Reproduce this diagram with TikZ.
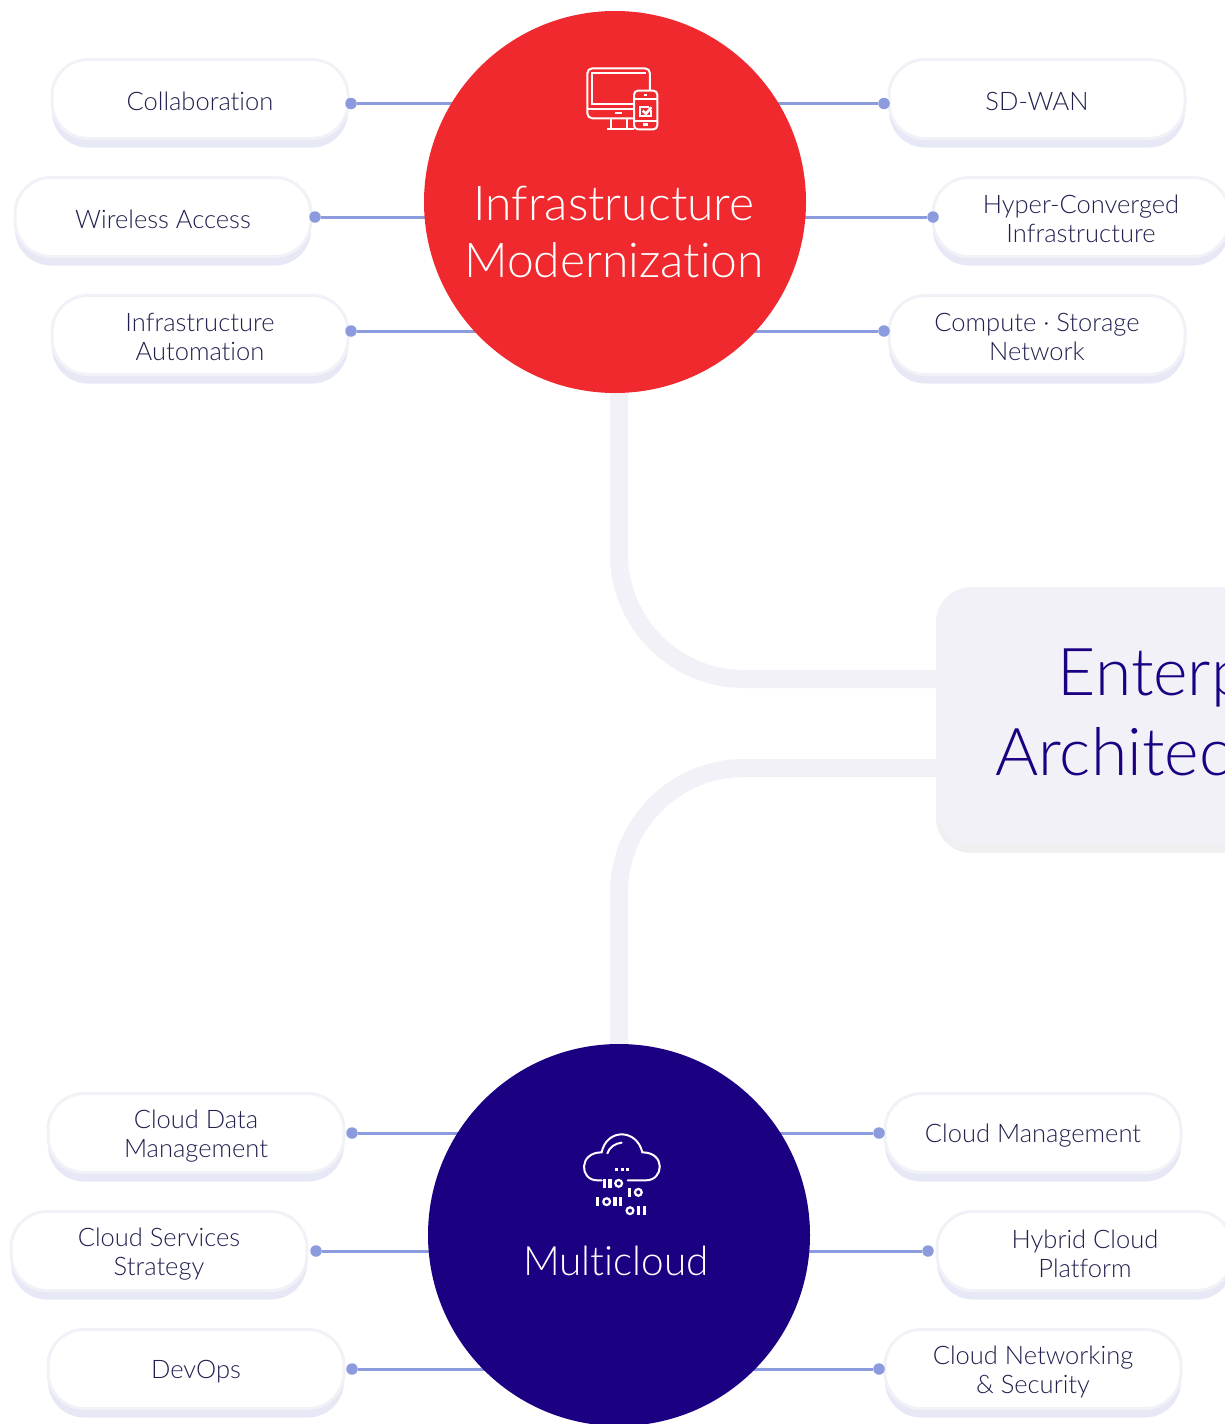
\documentclass[tikz,border=0pt]{standalone}
\usepackage{fontspec}
\setmainfont{Lato}[UprightFont=* Light, Ligatures=NoCommon]
\usepackage{xcolor}
\usetikzlibrary{backgrounds,shadows}

\definecolor{infrared}{HTML}{EF292D}
\definecolor{cloudnavy}{HTML}{1B0082}
\definecolor{pillink}{HTML}{20204F}
\definecolor{pillrim}{HTML}{F1F1F8}
\definecolor{pillshade}{HTML}{E6E8F5}
\definecolor{stubblue}{HTML}{8C9BDD}
\definecolor{trunkgrey}{HTML}{F1F1F7}
\definecolor{boxshade}{HTML}{F0F0F3}

\tikzset{
	pill/.style={draw=pillrim, line width=3pt, fill=white, rounded corners=36pt, minimum width=296pt, minimum height=79pt, inner sep=0pt, drop shadow={shadow xshift=0pt, shadow yshift=-9pt, fill=pillshade, opacity=1}},
	pilltext/.style={inner sep=0pt, align=center, text=pillink, font=\fontsize{25.5}{29}\selectfont},
	hub/.style={circle, minimum size=382pt, inner sep=0pt},
	hubtext/.style={text=white, align=center, inner sep=0pt},
	stubdot/.style={circle, fill=stubblue, minimum size=11.5pt, inner sep=0pt},
	stub/.style={draw=stubblue, line width=3pt},
	trunk/.style={draw=trunkgrey, line width=18pt, rounded corners=125pt},
	icon/.style={draw=white, line width=2pt}
}

\begin{document}
\begin{tikzpicture}[x=1pt, y=-1pt]
\useasboundingbox (0,0) rectangle (1225,1424);

\node[fill=trunkgrey, rounded corners=35pt, minimum width=468pt, minimum height=257pt, inner sep=0pt, drop shadow={shadow xshift=0pt, shadow yshift=-9pt, fill=boxshade, opacity=1}] (archbox) at (1170,715.5) {};
\node[inner sep=0pt, align=center, text=cloudnavy, font=\fontsize{66}{80}\selectfont] (archtext) at (1170,712) {\hspace*{66pt}Enterprise\\Architecture};

\node[hub, fill=infrared] (infra) at (615,202) {};
\node[hub, fill=cloudnavy] (multi) at (619,1235) {};
\node[hubtext, font=\fontsize{48}{57}\selectfont] (infratext) at (614,232) {Infrastructure\\Modernization};
\node[hubtext, font=\fontsize{40.5}{50}\selectfont] (multitext) at (616,1261) {Multicloud};

\begin{pgfonlayer}{background}
\draw[trunk] ([xshift=4pt]infra.south) |- ([yshift=36.5pt]archbox.west);
\draw[trunk] (multi.north) |- ([yshift=-52.5pt]archbox.west);
\end{pgfonlayer}

% pills round the red hub
\foreach \name/\x/\y/\dotx/\doty/\txt in {
	collab/200/99/351/103.5/Collaboration,
	wireless/163/217/315/217/Wireless Access,
	autom/200/335/351/331/Infrastructure\\Automation,
	sdwan/1037/99/884/103.5/SD-WAN,
	hyper/1081/217/933/217/Hyper-Converged\\Infrastructure,
	compute/1037/335/884/331/Compute · Storage\\Network}
{
	\node[pill] (\name) at (\x,\y) {};
	\node[pilltext] (\name text) at (\x,\y+2) {\txt};
	\node[stubdot] (\name dot) at (\dotx,\doty) {};
	\begin{pgfonlayer}{background}
	\draw[stub] (\name dot) -- (\name dot -| infra.center);
	\end{pgfonlayer}
}

% pills round the navy hub
\foreach \name/\x/\y/\dotx/\doty/\txt in {
	clouddata/196/1133/352/1133/Cloud Data\\Management,
	cloudstrat/159/1251/316/1251/Cloud Services\\Strategy,
	devops/196/1369/352/1369/DevOps,
	cloudmgmt/1033/1133/879/1133/Cloud Management,
	hybrid/1085/1251/928/1251/Hybrid Cloud\\Platform,
	cloudnet/1033/1369/879/1369/Cloud Networking\\\& Security}
{
	\node[pill] (\name) at (\x,\y) {};
	\node[pilltext] (\name text) at (\x,\y+3) {\txt};
	\node[stubdot] (\name dot) at (\dotx,\doty) {};
	\begin{pgfonlayer}{background}
	\draw[stub] (\name dot) -- (\name dot -| multi.center);
	\end{pgfonlayer}
}

% screen and phone
\begin{scope}[shift={(560,50)}, x=0.3333pt, y=-0.3333pt, icon]
\draw[rounded corners=5pt] (222,205) -- (82,205) -- (82,55) -- (270,55) -- (270,122);
\draw (258,70) -- (95,70) -- (95,163) -- (222,163);
\draw (82,178) -- (222,178);
\draw[line width=2.6pt] (165,189) -- (186,189);
\draw (152,205) -- (152,236) (200,205) -- (200,236) (140,236) -- (222,236);
\draw[rounded corners=4pt] (222,122) rectangle (292,238);
\draw (222,148) -- (292,148) (222,212) -- (292,212);
\draw[line width=2.6pt] (252,135) -- (262,135) (248,224) -- (264,224);
\draw (268,170) -- (240,170) -- (240,197) -- (272,197) -- (272,180);
\draw[line width=2.6pt] (248,182) -- (258,191) -- (274,172);
\end{scope}

% cloud and bits
\begin{scope}[shift={(560,1120)}, x=0.3333pt, y=-0.3333pt, icon]
\draw[line cap=round] (125,181) -- (112,181) .. controls (58,181) and (55,97) .. (125,97) .. controls (140,25) and (230,25) .. (247,97) .. controls (318,97) and (312,181) .. (258,181) -- (203,181);
\draw[line cap=round] (142,100) .. controls (148,82) and (165,70) .. (185,68);
\foreach \bx in {170,187,203}
	\fill[white] (\bx-5,144) rectangle (\bx+5,153);
\foreach \bx/\by in {133/190, 150/190, 208/217, 113/245, 165/245, 182/245, 235/272, 253/272}
	\fill[white] (\bx-5,\by-14) rectangle (\bx+5,\by+14);
\foreach \cx/\cy in {176/190, 235/217, 140/245, 210/272}
	\draw[line width=2.2pt] (\cx,\cy) circle (3.4pt);
\end{scope}

\end{tikzpicture}
\end{document}
